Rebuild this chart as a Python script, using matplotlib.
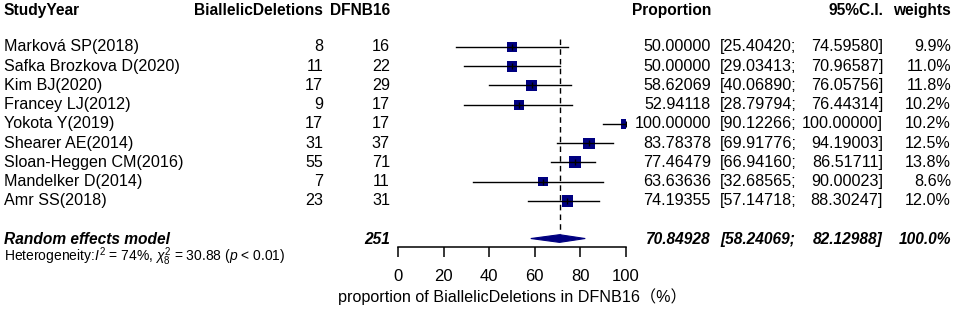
import numpy as np
import matplotlib
matplotlib.use('Agg')
import matplotlib.pyplot as plt
from matplotlib.transforms import blended_transform_factory

# data
studies = ['Marková SP(2018)', 'Safka Brozkova D(2020)', 'Kim BJ(2020)', 'Francey LJ(2012)',
           'Yokota Y(2019)', 'Shearer AE(2014)', 'Sloan-Heggen CM(2016)', 'Mandelker D(2014)',
           'Amr SS(2018)']
events = [8, 11, 17, 9, 17, 31, 55, 7, 23]
totals = [16, 22, 29, 17, 17, 37, 71, 11, 31]
prop = [50.00000, 50.00000, 58.62069, 52.94118, 100.00000, 83.78378, 77.46479, 63.63636, 74.19355]
lower = [25.40420, 29.03413, 40.06890, 28.79794, 90.12266, 69.91776, 66.94160, 32.68565, 57.14718]
upper = [74.59580, 70.96587, 76.05756, 76.44314, 100.00000, 94.19003, 86.51711, 90.00023, 88.30247]
weights = [9.9, 11.0, 11.8, 10.2, 10.2, 12.5, 13.8, 8.6, 12.0]
pooled = 70.84928
pooled_lower = 58.24069
pooled_upper = 82.12988
pooled_total = 251
xticks = [0, 20, 40, 60, 80, 100]

plt.rcParams['font.family'] = ['Liberation Sans', 'Noto Sans CJK SC']
plt.rcParams['mathtext.fontset'] = 'custom'
plt.rcParams['mathtext.rm'] = 'Liberation Sans'
plt.rcParams['mathtext.it'] = 'Liberation Sans:italic'

W, H = 957, 309
NAVY = '#000080'


def px(x):
    # pixel column -> figure fraction
    return x / W


def main():
    fig = plt.figure(figsize=(W / 100, H / 100), dpi=100)
    # forest panel: 0..100 spans pixel 398..626, axis line at pixel 247
    ax = fig.add_axes([px(398), 1 - 247 / H, px(228), 247 / H])
    ax.set_xlim(0, 100)
    ax.set_ylim(10.39, -2.44)
    for s in ['top', 'left', 'right']:
        ax.spines[s].set_visible(False)
    ax.spines['bottom'].set_linewidth(1.1)
    ax.set_yticks([])
    ax.set_xticks(xticks)
    ax.tick_params(axis='x', length=7.2, width=1.1, pad=8.5, labelsize=12)
    ax.patch.set_alpha(0)

    rows = np.arange(len(studies))
    y_sum = 9.95

    # reference line at pooled estimate
    ax.plot([pooled, pooled], [-0.4, 9.7], color='black', lw=1, ls=(0, (4, 3)), zorder=1)

    # squares (area ~ weight), CI lines over them
    sides = [11.2 * np.sqrt(w / 12.0) * 0.72 for w in weights]  # points
    ax.scatter(prop, rows, marker='s', s=np.array(sides) ** 2, color=NAVY, zorder=2, linewidths=0)
    for i in range(len(studies)):
        ax.plot([lower[i], upper[i]], [rows[i], rows[i]], color='black', lw=1, zorder=3)
    ax.plot(prop, rows, ls='none', marker='|', ms=5, mew=1, color='black', zorder=4)

    # pooled diamond
    hh = 0.2
    ax.fill([pooled_lower, pooled, pooled_upper, pooled],
            [y_sum, y_sum - hh, y_sum, y_sum + hh], color=NAVY, lw=0.8, zorder=3)

    # table columns
    tr = blended_transform_factory(fig.transFigure, ax.transData)
    fs = 11.6
    hy = -1.92
    bold = dict(transform=tr, fontsize=11.2, fontweight='bold', va='center')
    ax.text(px(4), hy, 'StudyYear', ha='left', **bold)
    ax.text(px(323), hy, 'BiallelicDeletions', ha='right', **bold)
    ax.text(px(390), hy, 'DFNB16', ha='right', **bold)
    ax.text(px(711), hy, 'Proportion', ha='right', **bold)
    ax.text(px(883), hy, '95%C.I.', ha='right', **bold)
    ax.text(px(951), hy, 'weights', ha='right', **bold)

    norm = dict(transform=tr, fontsize=fs, va='center')
    for i in range(len(studies)):
        y = rows[i]
        ax.text(px(4), y, studies[i], ha='left', **norm)
        ax.text(px(323), y, str(events[i]), ha='right', **norm)
        ax.text(px(390), y, str(totals[i]), ha='right', **norm)
        ax.text(px(711), y, '%.5f' % prop[i], ha='right', **norm)
        ax.text(px(720), y, '[%.5f;' % lower[i], ha='left', **norm)
        ax.text(px(883), y, '%.5f]' % upper[i], ha='right', **norm)
        ax.text(px(951), y, '%.1f%%' % weights[i], ha='right', **norm)

    bi = dict(transform=tr, fontsize=11.2, va='center', fontweight='bold', fontstyle='italic')
    ys = y_sum + 0.05
    ax.text(px(4), ys, 'Random effects model', ha='left', **bi)
    ax.text(px(390), ys, str(pooled_total), ha='right', **bi)
    ax.text(px(711), ys, '%.5f' % pooled, ha='right', **bi)
    ax.text(px(720), ys, '[%.5f;' % pooled_lower, ha='left', **bi)
    ax.text(px(883), ys, '%.5f]' % pooled_upper, ha='right', **bi)
    ax.text(px(951), ys, '100.0%', ha='right', **bi)

    fig.text(px(4), 1 - 257 / H, r'Heterogeneity:$I^2$ = 74%, $\chi^2_8$ = 30.88 ($p$ < 0.01)',
             fontsize=10, ha='left', va='center')

    fig.text(px(512), 1 - 297 / H, 'proportion of BiallelicDeletions in DFNB16（%）',
             fontsize=fs, ha='center', va='center')

    fig.savefig('out.png', dpi=100)


if __name__ == "__main__":
    main()
